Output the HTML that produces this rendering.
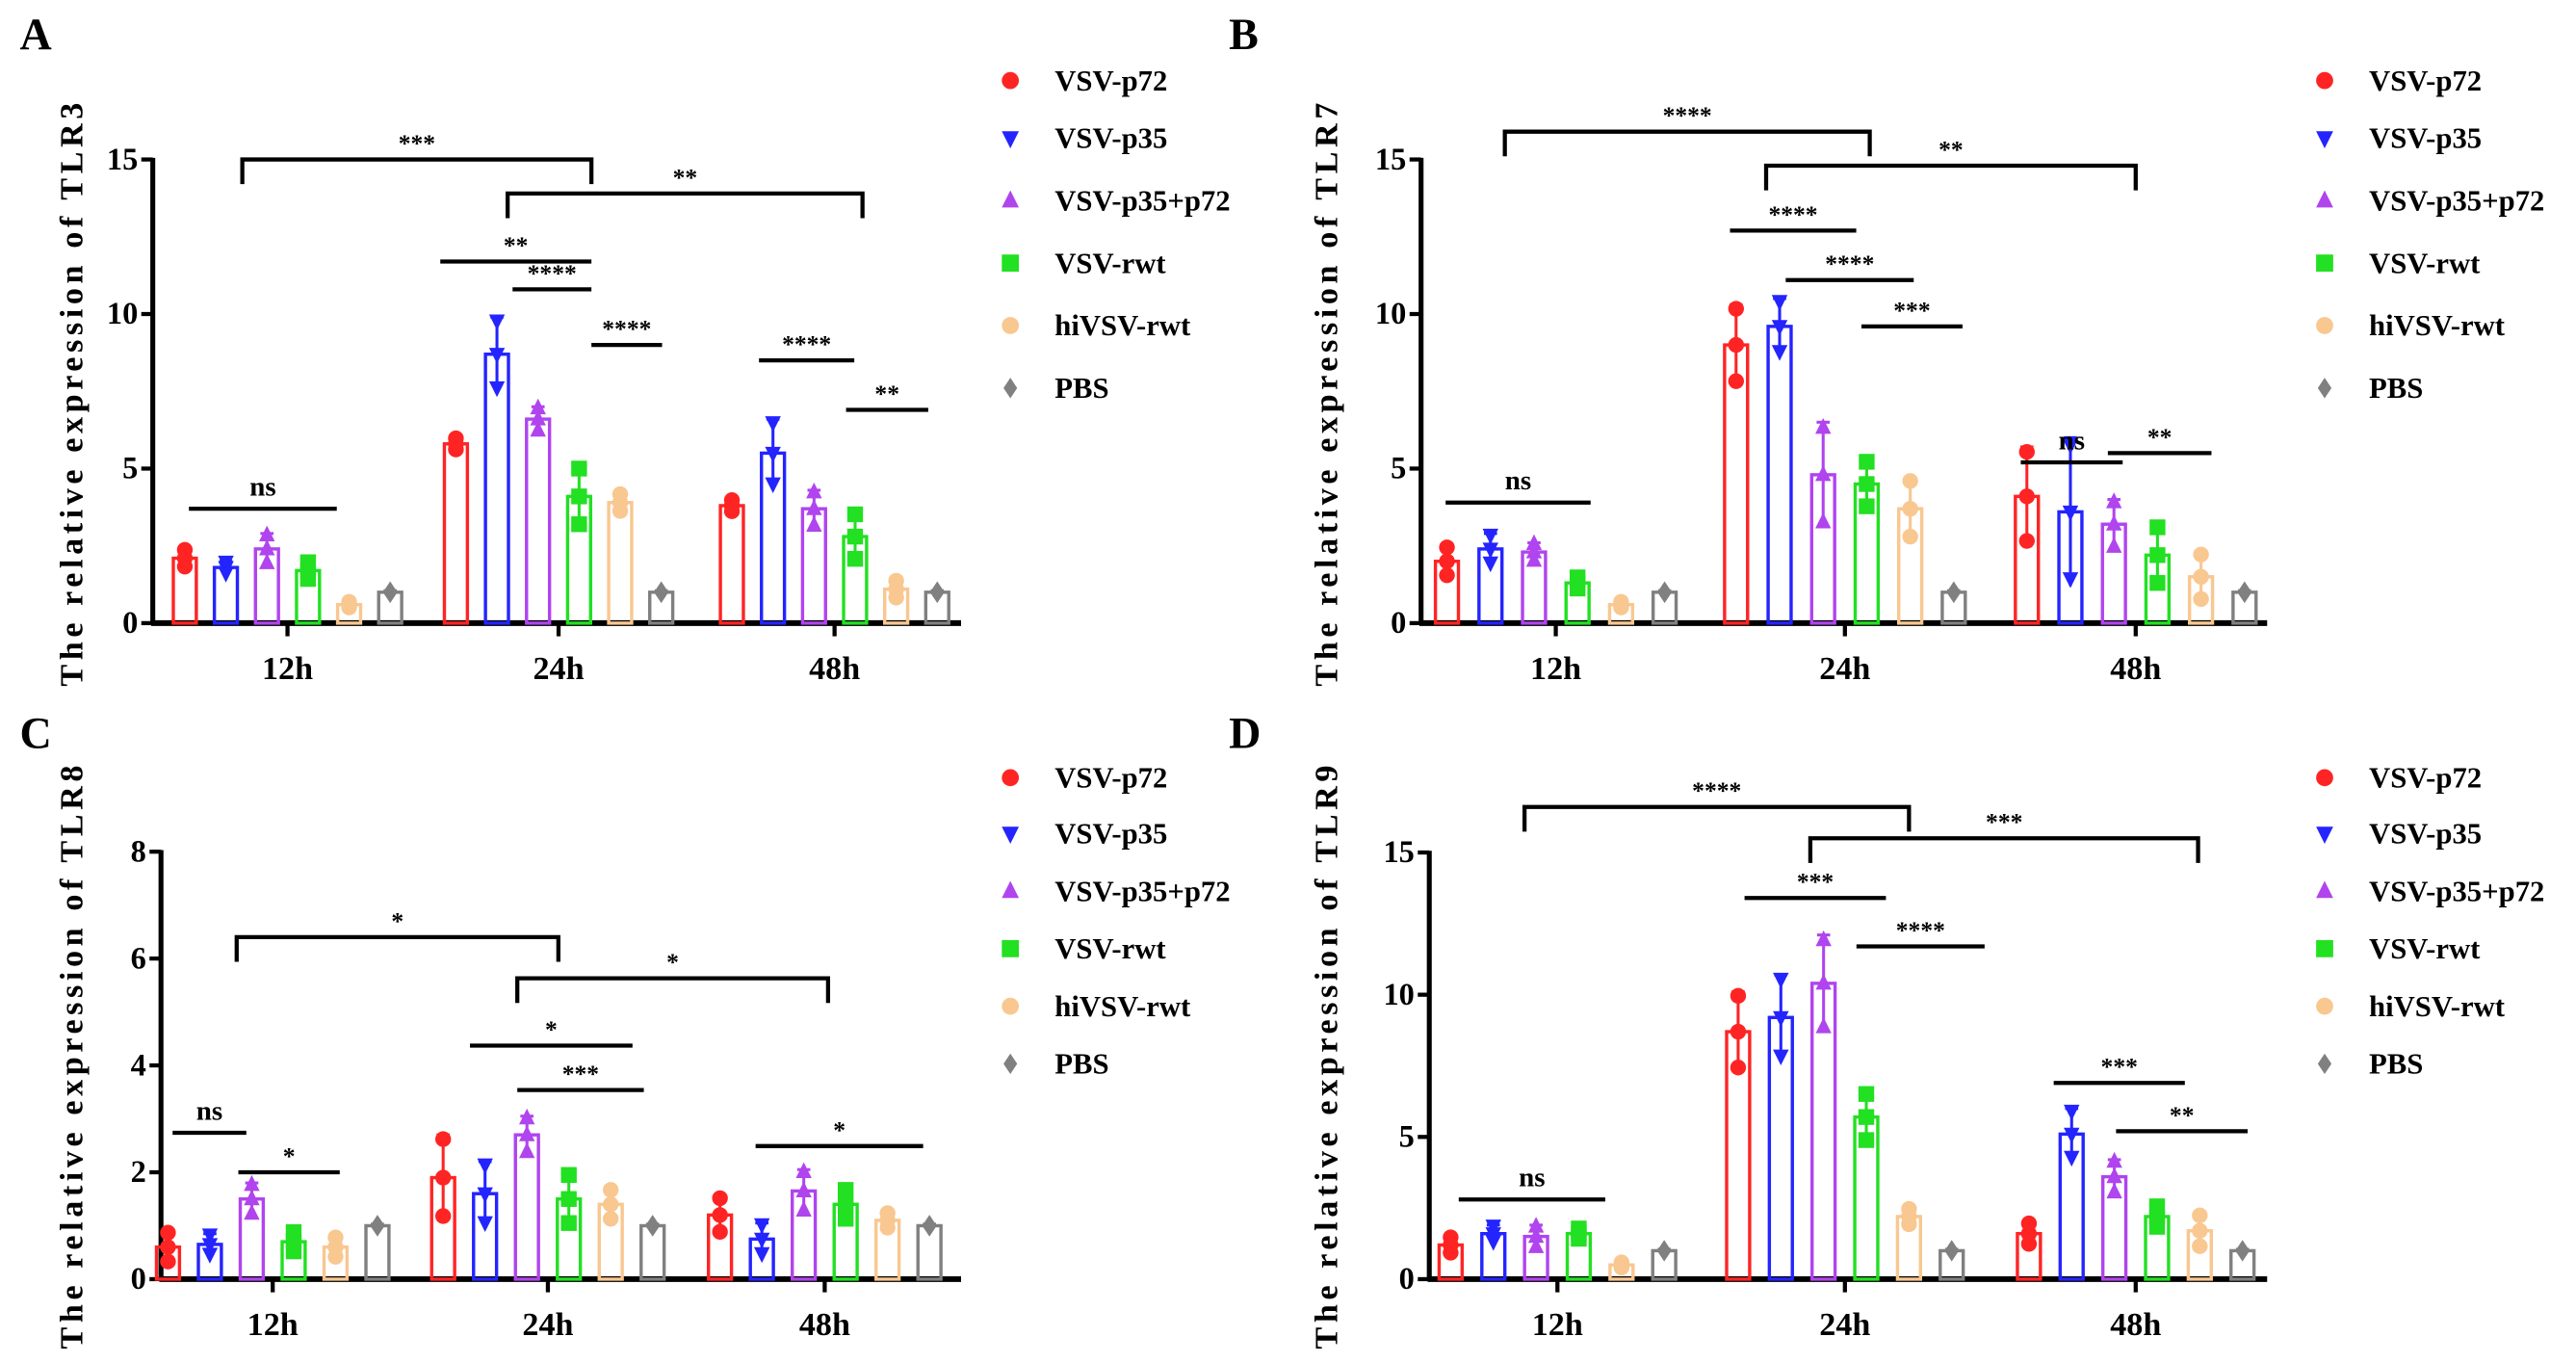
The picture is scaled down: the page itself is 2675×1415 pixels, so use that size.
<!DOCTYPE html>
<html><head><meta charset="utf-8">
<style>
html,body{margin:0;padding:0;background:#fff;}
svg{display:block;}
text{font-family:"Liberation Serif",serif;font-weight:bold;}
</style></head>
<body>
<svg id="fig" width="2675" height="1415" viewBox="0 0 1568 829" preserveAspectRatio="none" xmlns="http://www.w3.org/2000/svg"></svg>
<script>
const groups = ["12h","24h","48h"];
const seriesNames = ["VSV-p72","VSV-p35","VSV-p35+p72","VSV-rwt","hiVSV-rwt","PBS"];
const colors = ["#ff2424","#2424ff","#b044ee","#22e022","#f9c790","#808080"];
const shapes = ["circle","down","up","square","circle","diamond"];

const aMeans = [[2.1,1.8,2.4,1.7,0.6,1.0],[5.8,8.7,6.6,4.1,3.9,1.0],[3.8,5.5,3.7,2.8,1.1,1.0]];
const aSd    = [[0.3,0.2,0.5,0.3,0.1,0.05],[0.2,1.2,0.4,1.0,0.3,0.05],[0.2,1.1,0.6,0.8,0.3,0.05]];
const bMeans = [[2.0,2.4,2.3,1.3,0.6,1.0],[9.0,9.6,4.8,4.5,3.7,1.0],[4.1,3.6,3.2,2.2,1.5,1.0]];
const bSd    = [[0.5,0.5,0.3,0.2,0.1,0.05],[1.3,0.9,1.7,0.8,1.0,0.05],[1.6,2.4,0.8,1.0,0.8,0.05]];
const cMeans = [[0.6,0.65,1.5,0.7,0.6,1.0],[1.9,1.6,2.7,1.5,1.4,1.0],[1.2,0.75,1.65,1.4,1.1,1.0]];
const cSd    = [[0.3,0.2,0.3,0.2,0.2,0.03],[0.8,0.6,0.35,0.5,0.3,0.03],[0.35,0.3,0.4,0.3,0.15,0.03]];
const dMeans = [[1.2,1.6,1.5,1.6,0.5,1.0],[8.7,9.2,10.4,5.7,2.2,1.0],[1.6,5.1,3.6,2.2,1.7,1.0]];
const dSd    = [[0.3,0.3,0.4,0.2,0.1,0.05],[1.4,1.5,1.7,0.9,0.3,0.05],[0.4,0.9,0.6,0.4,0.6,0.05]];
const yTicks15 = [0,5,10,15];
const yTicks8 = [0,2,4,6,8];

// annotations: [g1,i1,g2,i2,yValue,label,isBracket]
const aSig = [[0,1.4,1,3.3,15.0,"***",1],[1,1.26,2,3.18,13.9,"**",1],[1,-0.38,1,3.3,11.7,"**",0],[1,1.38,1,3.3,10.8,"****",0],[1,3.3,1,5.02,9.0,"****",0],[2,0.66,2,2.98,8.5,"****",0],[2,2.78,2,4.78,6.9,"**",0],[0,0.1,0,3.7,3.7,"ns",0]];
const bSig = [[0,1.33,1,3.07,15.9,"****",1],[1,0.69,2,2.5,14.8,"**",1],[1,-0.14,1,2.76,12.7,"****",0],[1,1.14,1,4.08,11.1,"****",0],[1,2.88,1,5.2,9.6,"***",0],[2,-0.14,2,2.2,5.2,"ns",0],[2,1.86,2,4.24,5.5,"**",0],[0,-0.03,0,3.3,3.9,"ns",0]];
const cSig = [[0,1.64,1,2.75,6.4,"*",1],[1,1.77,2,2.58,5.63,"*",1],[0,0.11,0,1.87,2.74,"ns",0],[0,1.68,0,4.1,2.0,"*",0],[1,0.64,1,4.52,4.37,"*",0],[1,1.77,1,4.79,3.54,"***",0],[2,0.85,2,4.85,2.49,"*",0]];
const dSig = [[0,1.73,1,4.0,16.6,"****",1],[1,1.69,2,3.96,15.5,"***",1],[1,0.15,1,3.46,13.4,"***",0],[1,2.77,1,5.77,11.7,"****",0],[0,0.19,0,3.62,2.8,"ns",0],[2,0.58,2,3.65,6.9,"***",0],[2,2.04,2,5.12,5.2,"**",0]];

const NS="http://www.w3.org/2000/svg";
const svg=document.getElementById('fig');
function mk(tag,attrs,parent){const e=document.createElementNS(NS,tag);for(const k in attrs)e.setAttribute(k,attrs[k]);(parent||svg).appendChild(e);return e;}

function marker(shape,x,y,r,color,parent){
  let e;
  if(shape==="circle") e=mk('circle',{cx:x,cy:y,r:r,fill:color},parent);
  else if(shape==="square") e=mk('rect',{x:x-r,y:y-r,width:2*r,height:2*r,fill:color},parent);
  else if(shape==="up") e=mk('polygon',{points:`${x},${y-r*1.2} ${x-r},${y+r*0.8} ${x+r},${y+r*0.8}`,fill:color},parent);
  else if(shape==="down") e=mk('polygon',{points:`${x},${y+r*1.2} ${x-r},${y-r*0.8} ${x+r},${y-r*0.8}`,fill:color},parent);
  else e=mk('polygon',{points:`${x},${y-r*1.2} ${x-r*0.8},${y} ${x},${y+r*1.2} ${x+r*0.8},${y}`,fill:color},parent);
  return e;
}

function panel(p){
  const g=mk('g',{});
  
  
  const yS=v=>p.y0-(v/p.ymax)*(p.y0-p.ytop);
  const xS=(gi,i)=>p.centers[gi]+(i-2.5)*p.step;
  const L=mk('text',{x:p.lx,y:p.ly,'font-size':27},g);L.textContent=p.letter;
  
  
  // axes
  const ya=mk('line',{x1:p.ax,y1:yS(p.ymax)-1,x2:p.ax,y2:p.y0,stroke:'#000','stroke-width':3},g);
  
  
  const xa=mk('line',{x1:p.ax-1,y1:p.y0,x2:p.xend,y2:p.y0,stroke:'#000','stroke-width':3.5},g);
  
  
  p.ticks.forEach(t=>{
    mk('line',{x1:p.ax-7,y1:yS(t),x2:p.ax,y2:yS(t),stroke:'#000','stroke-width':2.5},g);
    const tl=mk('text',{x:p.ax-9,y:yS(t)+6,'font-size':19,'text-anchor':'end'},g);tl.textContent=t;
    
    
  });
  groups.forEach((gn,gi)=>{
    mk('line',{x1:p.centers[gi],y1:p.y0,x2:p.centers[gi],y2:p.y0+8,stroke:'#000','stroke-width':2.5},g);
    const tl=mk('text',{x:p.centers[gi],y:p.y0+34,'font-size':20,'text-anchor':'middle'},g);tl.textContent=gn;
    
    
  });
  const yt=mk('text',{x:0,y:0,'font-size':20,'text-anchor':'middle',transform:`translate(${p.tx},${p.ty}) rotate(-90)`,textLength:355,lengthAdjust:'spacing'},g);
  yt.textContent='The relative expression of '+p.gene;
  
  
  // bars
  p.means.forEach((row,gi)=>row.forEach((m,i)=>{
    const x=xS(gi,i), sd=p.sd[gi][i], w=14;
    const b=mk('rect',{x:x-w/2,y:yS(m),width:w,height:p.y0-yS(m),fill:'none',stroke:colors[i],'stroke-width':2},g);
    
    
    mk('line',{x1:x,y1:yS(m+sd),x2:x,y2:yS(Math.max(0,m-sd)),stroke:colors[i],'stroke-width':1.8},g);
    mk('line',{x1:x-4,y1:yS(m+sd),x2:x+4,y2:yS(m+sd),stroke:colors[i],'stroke-width':1.8},g);
    [m-sd*0.9,m,m+sd*0.9].forEach(v=>{
      const pt=marker(shapes[i],x,yS(v),4.8,colors[i],g);
      
      
    });
  }));
  // significance
  p.sig.forEach(s=>{
    const x1=xS(s[0],s[1]), x2=xS(s[2],s[3]), y=yS(s[4]);
    const ln=mk('polyline',{points:s[6]?`${x1},${y+15} ${x1},${y} ${x2},${y} ${x2},${y+15}`:`${x1},${y} ${x2},${y}`,fill:'none',stroke:'#000','stroke-width':2.5},g);
    
    
    const t=mk('text',{x:(x1+x2)/2,y:y-(s[5]==='ns'?8:5),'font-size':s[5]==='ns'?17:15,'text-anchor':'middle'},g);
    t.textContent=s[5];
    
    
  });
  // legend
  seriesNames.forEach((n,i)=>{
    const y=p.legY[i];
    const lg=mk('g',{},g);
    
    
    marker(shapes[i],p.legX,y,5.2,colors[i],lg);
    const t=mk('text',{x:p.legX+27,y:y+6,'font-size':18},lg);t.textContent=n;
  });
}
const legTop=[49,84,122,160,198,236], legBot=[473,507,542,577,612,647];
panel({letter:'A',lx:12,ly:30,gene:'TLR3',ax:93,y0:379,ytop:97,ymax:15,ticks:yTicks15,xend:585,centers:[175,340,508],step:25,means:aMeans,sd:aSd,sig:aSig,tx:50,ty:240,legX:615,legY:legTop});
panel({letter:'B',lx:748,ly:30,gene:'TLR7',ax:865,y0:379,ytop:97,ymax:15,ticks:yTicks15,xend:1380,centers:[947,1123,1300],step:26.5,means:bMeans,sd:bSd,sig:bSig,tx:814,ty:240,legX:1415,legY:legTop});
panel({letter:'C',lx:12,ly:455,gene:'TLR8',ax:98,y0:778,ytop:518,ymax:8,ticks:yTicks8,xend:585,centers:[166,333.5,502],step:25.5,means:cMeans,sd:cSd,sig:cSig,tx:50,ty:643,legX:615,legY:legBot});
panel({letter:'D',lx:748,ly:455,gene:'TLR9',ax:870,y0:778,ytop:518.5,ymax:15,ticks:yTicks15,xend:1380,centers:[948,1123,1300],step:26,means:dMeans,sd:dSd,sig:dSig,tx:814,ty:643,legX:1415,legY:legBot});
</script>
</body></html>
